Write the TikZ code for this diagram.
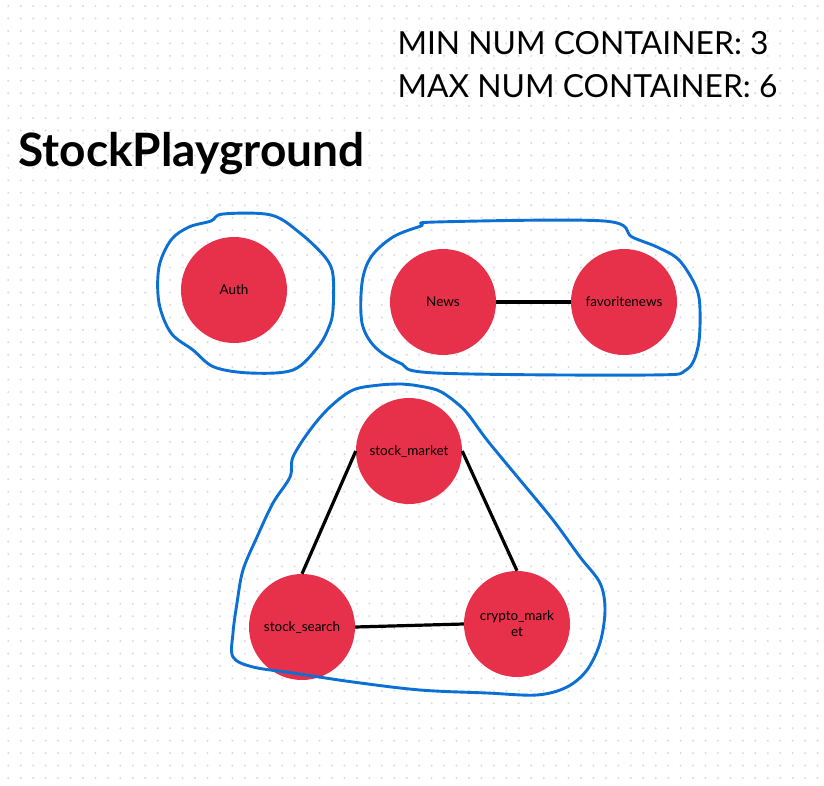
\documentclass[tikz,border=0pt]{standalone}
\usepackage{fontspec}
\setmainfont{Lato}
\definecolor{svcred}{HTML}{E7304A}
\definecolor{groupblue}{HTML}{0B6FD3}
\definecolor{dotgray}{HTML}{D9D9E2}
\begin{document}
\begin{tikzpicture}[x=1pt,y=-1pt,
		service/.style={circle,fill=svcred,minimum size=106pt,inner sep=0pt,font=\fontsize{13.5}{16}\selectfont,align=center},
		link/.style={line width=3.2pt,black},
		group/.style={line width=2.9pt,groupblue,line join=round}]
			\useasboundingbox (0,0) rectangle (824,786);
			\fill[white] (0,0) rectangle (824,786);
			\foreach \i in {0,...,65}
				\foreach \j in {0,...,62}
					\fill[dotgray] (8.3+12.45*\i,6.1+12.45*\j) circle (1.1);

			\node[anchor=base west,font=\fontsize{31.8}{36}\selectfont] (minnum) at (394,55) {MIN NUM CONTAINER: 3};
			\node[anchor=base west,font=\fontsize{31.8}{36}\selectfont] (maxnum) at (394,98) {MAX NUM CONTAINER: 6};
			\node[anchor=base west,font=\bfseries\fontsize{46}{52}\selectfont] (title) at (15,167) {StockPlayground};

			\node[service] (auth)  at (234,290) {Auth};
			\node[service] (news)  at (443,302) {News};
			\node[service] (favnews) at (624,302) {favoritenews};
			\node[service] (market) at (409,451) {stock\_market};
			\node[service] (search) at (302,627) {stock\_search};
			\node[service] (crypto) at (517,624) {crypto\_mark\\et};

			\draw[link] (news.east)--(favnews.west);
			\draw[link] (market.west)--(search.north);
			\draw[link] (market.east)--(crypto.north);
			\draw[link] (search.east)--(crypto.west);

			\draw[group] plot[smooth cycle,tension=0.55] coordinates {
				(223,214) (271,215) (300,233) (325,257) (333,275) (333,310) (329,327) (318,347)
				(293,370) (250,373) (214,367) (193,350) (171,333) (159,303) (159,267) (171,240)
				(189,227) (211,221)};
			\draw[group] plot[smooth cycle,tension=0.55] coordinates {
				(436,222) (604,221) (632,237) (657,247) (679,260) (696,287) (700,310) (698,347)
				(686,370) (650,375) (436,373) (400,363) (375,347) (362,323) (362,283) (371,257)
				(393,237) (421,226)};
			\draw[group] plot[smooth cycle,tension=0.55] coordinates {
				(402,384) (413,385) (437,390) (453,400) (467,413) (487,440) (520,480) (553,520)
				(580,557) (600,583) (605,610) (600,643) (587,670) (567,687) (537,695) (487,693)
				(420,690) (353,682) (293,673) (253,667) (233,657) (233,633) (237,603) (243,570)
				(257,537) (273,503) (290,477) (293,457) (310,430) (330,407) (353,390) (380,385)};
		\end{tikzpicture}
\end{document}
